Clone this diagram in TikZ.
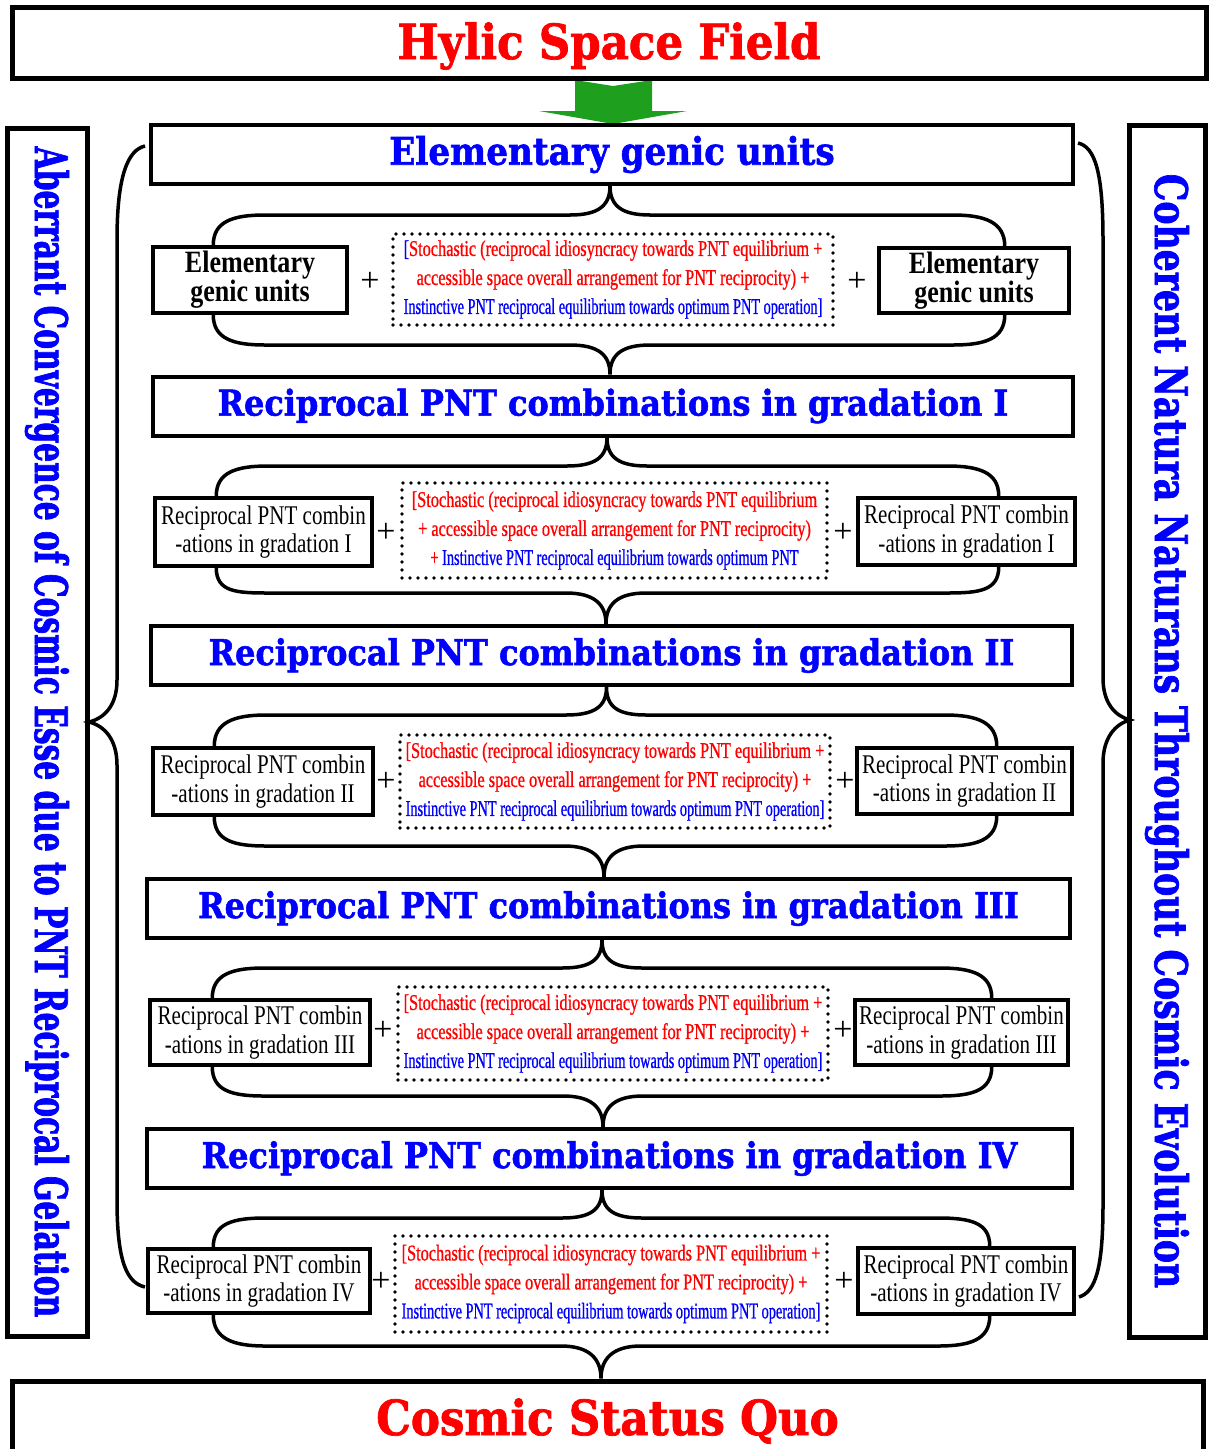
\documentclass[tikz,border=0pt]{standalone}
\usepackage{fontspec}
\usepackage{graphicx}
\usepackage{tikz}
\newfontfamily\headfont[FakeStretch=0.9,BoldFeatures={FakeBold=1.5}]{DejaVu Serif}
\newfontfamily\leftfont[FakeStretch=0.66,BoldFeatures={FakeBold=1.5}]{DejaVu Serif}
\newfontfamily\rightfont[FakeStretch=0.77,BoldFeatures={FakeBold=1.5}]{DejaVu Serif}
\newfontfamily\boxfont[FakeStretch=0.78]{Liberation Serif}
\newfontfamily\unitfont[FakeStretch=0.84]{Liberation Serif}
\newfontfamily\notefont[FakeStretch=0.725,FakeBold=0.8]{Liberation Serif}
\newfontfamily\notetight[FakeStretch=0.635,FakeBold=0.8]{Liberation Serif}
\newfontfamily\plusfont{Liberation Serif}
\definecolor{arrowgreen}{RGB}{30,160,30}

\begin{document}
\begin{tikzpicture}[x=1pt,y=-1pt,
    titlebox/.style={draw,line width=5pt,inner sep=0pt,text=red,font=\headfont\bfseries\fontsize{48.4}{50}\selectfont},
    stagebox/.style={draw,line width=4pt,inner sep=0pt,minimum height=59pt,text=blue,font=\headfont\bfseries\fontsize{35.5}{40}\selectfont},
    sidebox/.style={draw,line width=5pt,inner sep=0pt,rotate=-90,text=blue},
    unitbox/.style={draw,line width=3.5pt,inner sep=0pt,align=center,font=\unitfont\bfseries\fontsize{31}{29}\selectfont},
    combox/.style={draw,line width=3.5pt,inner sep=0pt,align=center,font=\boxfont\fontsize{27}{28.5}\selectfont},
    notebox/.style={draw,line width=3.6pt,dash pattern=on 0pt off 8pt,line cap=round,inner sep=0pt,align=center,text=red,font=\notefont\fontsize{22.5}{29}\selectfont},
    plussign/.style={inner sep=0pt,font=\plusfont\fontsize{34}{34}\selectfont},
    bracepath/.style={line width=3.5pt}]
  \useasboundingbox (0,0) rectangle (1208,1449);

  % top and bottom
  \fill[arrowgreen] (575,80) -- (613,86) -- (652,80) -- (652,111) -- (687,111) -- (613,124) -- (539,111) -- (575,111) -- cycle;
  \node[titlebox, minimum width=1194pt, minimum height=71pt, text height=45pt, text depth=12pt] (hylic) at (609,42.5) {Hylic Space Field};
  \node[titlebox, minimum width=1191pt, minimum height=80pt] (cosmic) at (607.5,1421) {Cosmic Status Quo};

  % side boxes
  \node[sidebox, minimum width=1208pt, minimum height=80pt, font=\leftfont\bfseries\fontsize{45}{48}\selectfont] (aberrant) at (47,732) {Aberrant Convergence of Cosmic Esse due to PNT Reciprocal Gelation};
  \node[sidebox, minimum width=1212pt, minimum height=76pt, font=\rightfont\bfseries\fontsize{45}{48}\selectfont] (coherent) at (1167,731) {Coherent Natura Naturans Throughout Cosmic Evolution};
  \draw[bracepath] (145,146) .. controls (128,150) and (117,175) .. (117,240) -- (117,680) .. controls (117,705) and (105,718) .. (89,722) .. controls (105,726) and (117,740) .. (117,765) -- (117,1200) .. controls (117,1265) and (128,1283) .. (145,1287);
  \draw[bracepath] (1078,143) .. controls (1095,147) and (1103,172) .. (1103,240) -- (1103,678) .. controls (1103,703) and (1115,716) .. (1130,720) .. controls (1115,724) and (1103,738) .. (1103,763) -- (1103,1205) .. controls (1103,1270) and (1095,1292) .. (1079,1297);

  % stages
  \node[stagebox, minimum width=922pt, font=\headfont\bfseries\fontsize{38}{40}\selectfont] (b0) at (612,154.5) {Elementary genic units};
  \node[stagebox, minimum width=920pt] (b1) at (613,406) {Reciprocal PNT combinations in gradation I};
  \node[stagebox, minimum width=921pt] (b2) at (611.5,655.5) {Reciprocal PNT combinations in gradation II};
  \node[stagebox, minimum width=923pt] (b3) at (608.5,908.5) {Reciprocal PNT combinations in gradation III};
  \node[stagebox, minimum width=925pt] (b4) at (609.5,1158.5) {Reciprocal PNT combinations in gradation IV};

  % row 0
  \node[unitbox, minimum width=194pt, minimum height=66pt] (l0) at (250,280) {Elementary\\genic units};
  \node[plussign] (p0a) at (370,282) {+};
  \node[notebox, minimum width=440pt, minimum height=91pt] (n0) at (613,279.5) {\textcolor{blue}{[}Stochastic (reciprocal idiosyncracy towards PNT equilibrium +\\accessible space overall arrangement for PNT reciprocity) +\\\textcolor{blue}{\notetight Instinctive PNT reciprocal equilibrium towards optimum PNT operation]}};
  \node[plussign] (p0b) at (857,282) {+};
  \node[unitbox, minimum width=190pt, minimum height=65pt] (r0) at (974,280.5) {Elementary\\genic units};
  \draw[bracepath] ([xshift=62pt]l0.north west) .. controls +(0,-24) and +(-32,0) .. (265,215) -- (570,215) .. controls +(28,0) and +(0,20) .. ([xshift=-2pt]b0.south) .. controls +(0,20) and +(-28,0) .. (650,215) -- (953,215) .. controls +(32,0) and +(0,-24) .. ([xshift=-66pt]r0.north east);
  \draw[bracepath] ([xshift=62pt]l0.south west) .. controls +(0,24) and +(-32,0) .. (265,345) -- (570,345) .. controls +(28,0) and +(0,-20) .. ([xshift=-3pt]b1.north) .. controls +(0,-20) and +(-28,0) .. (650,345) -- (953,345) .. controls +(32,0) and +(0,24) .. ([xshift=-66pt]r0.south east);

  % row 1
  \node[combox, minimum width=217pt, minimum height=68pt] (l1) at (263.5,532) {Reciprocal PNT combin\\-ations in gradation I};
  \node[plussign] (p1a) at (386,533) {+};
  \node[notebox, minimum width=425pt, minimum height=95pt] (n1) at (614.5,530.5) {[Stochastic (reciprocal idiosyncracy towards PNT equilibrium\\+ accessible space overall arrangement for PNT reciprocity)\\{\notetight + \textcolor{blue}{Instinctive PNT reciprocal equilibrium towards optimum PNT}}};
  \node[plussign] (p1b) at (843,533) {+};
  \node[combox, minimum width=217pt, minimum height=67pt] (r1) at (966.5,531.5) {Reciprocal PNT combin\\-ations in gradation I};
  \draw[bracepath] ([xshift=63pt]l1.north west) .. controls +(0,-24) and +(-32,0) .. (268,466) -- (567,466) .. controls +(28,0) and +(0,20) .. ([xshift=-6pt]b1.south) .. controls +(0,20) and +(-28,0) .. (647,466) -- (947,466) .. controls +(32,0) and +(0,-24) .. ([xshift=-78pt]r1.north east);
  \draw[bracepath] ([xshift=63pt]l1.south west) .. controls +(0,24) and +(-32,0) .. (268,593) -- (566,593) .. controls +(28,0) and +(0,-20) .. ([xshift=-5.5pt]b2.north) .. controls +(0,-20) and +(-28,0) .. (646,593) -- (947,593) .. controls +(32,0) and +(0,24) .. ([xshift=-78pt]r1.south east);

  % row 2
  \node[combox, minimum width=220pt, minimum height=67pt] (l2) at (263,781.5) {Reciprocal PNT combin\\-ations in gradation II};
  \node[plussign] (p2a) at (386,782) {+};
  \node[notebox, minimum width=430pt, minimum height=93pt] (n2) at (615,781.5) {[Stochastic (reciprocal idiosyncracy towards PNT equilibrium +\\accessible space overall arrangement for PNT reciprocity) +\\\textcolor{blue}{\notetight Instinctive PNT reciprocal equilibrium towards optimum PNT operation]}};
  \node[plussign] (p2b) at (845,782) {+};
  \node[combox, minimum width=215pt, minimum height=66pt] (r2) at (964.5,781) {Reciprocal PNT combin\\-ations in gradation II};
  \draw[bracepath] ([xshift=63pt]l2.north west) .. controls +(0,-24) and +(-32,0) .. (266,715) -- (566,715) .. controls +(28,0) and +(0,20) .. ([xshift=-5pt]b2.south) .. controls +(0,20) and +(-28,0) .. (646,715) -- (945,715) .. controls +(32,0) and +(0,-24) .. ([xshift=-77pt]r2.north east);
  \draw[bracepath] ([xshift=63pt]l2.south west) .. controls +(0,24) and +(-32,0) .. (266,846) -- (564,846) .. controls +(28,0) and +(0,-20) .. ([xshift=-4.5pt]b3.north) .. controls +(0,-20) and +(-28,0) .. (644,846) -- (945,846) .. controls +(32,0) and +(0,24) .. ([xshift=-77pt]r2.south east);

  % row 3
  \node[combox, minimum width=220pt, minimum height=65pt] (l3) at (260,1032.5) {Reciprocal PNT combin\\-ations in gradation III};
  \node[plussign] (p3a) at (383,1031) {+};
  \node[notebox, minimum width=430pt, minimum height=93pt] (n3) at (613,1033.5) {[Stochastic (reciprocal idiosyncracy towards PNT equilibrium +\\accessible space overall arrangement for PNT reciprocity) +\\\textcolor{blue}{\notetight Instinctive PNT reciprocal equilibrium towards optimum PNT operation]}};
  \node[plussign] (p3b) at (843,1031) {+};
  \node[combox, minimum width=213pt, minimum height=65pt] (r3) at (961.5,1032.5) {Reciprocal PNT combin\\-ations in gradation III};
  \draw[bracepath] ([xshift=64pt]l3.north west) .. controls +(0,-24) and +(-32,0) .. (264,968) -- (562,968) .. controls +(28,0) and +(0,20) .. ([xshift=-6.5pt]b3.south) .. controls +(0,20) and +(-28,0) .. (642,968) -- (940,968) .. controls +(32,0) and +(0,-24) .. ([xshift=-78pt]r3.north east);
  \draw[bracepath] ([xshift=64pt]l3.south west) .. controls +(0,24) and +(-32,0) .. (264,1096) -- (563,1096) .. controls +(28,0) and +(0,-20) .. ([xshift=-6.5pt]b4.north) .. controls +(0,-20) and +(-28,0) .. (643,1096) -- (940,1096) .. controls +(32,0) and +(0,24) .. ([xshift=-78pt]r3.south east);

  % row 4
  \node[combox, minimum width=222pt, minimum height=64pt] (l4) at (259,1281) {Reciprocal PNT combin\\-ations in gradation IV};
  \node[plussign] (p4a) at (381,1282) {+};
  \node[notebox, minimum width=432pt, minimum height=96pt] (n4) at (611,1284) {[Stochastic (reciprocal idiosyncracy towards PNT equilibrium +\\accessible space overall arrangement for PNT reciprocity) +\\\textcolor{blue}{\notetight Instinctive PNT reciprocal equilibrium towards optimum PNT operation]}};
  \node[plussign] (p4b) at (844,1282) {+};
  \node[combox, minimum width=216pt, minimum height=66pt] (r4) at (966,1281) {Reciprocal PNT combin\\-ations in gradation IV};
  \draw[bracepath] ([xshift=67pt]l4.north west) .. controls +(0,-24) and +(-32,0) .. (265,1218) -- (562,1218) .. controls +(28,0) and +(0,20) .. ([xshift=-7.5pt]b4.south) .. controls +(0,20) and +(-28,0) .. (642,1218) -- (938,1218) .. controls +(32,0) and +(0,-24) .. ([xshift=-86pt]r4.north east);
  \draw[bracepath] ([xshift=67pt]l4.south west) .. controls +(0,24) and +(-32,0) .. (265,1346) -- (561,1346) .. controls +(28,0) and +(0,-20) .. ([xshift=-6.5pt]cosmic.north) .. controls +(0,-20) and +(-28,0) .. (641,1346) -- (938,1346) .. controls +(32,0) and +(0,24) .. ([xshift=-86pt]r4.south east);
\end{tikzpicture}
\end{document}
